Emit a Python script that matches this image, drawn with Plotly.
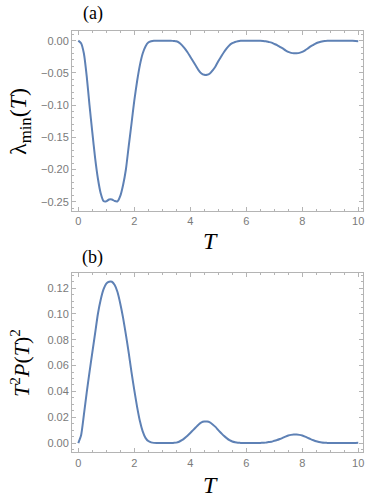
import plotly.graph_objects as go

# T grid (step 0.1 from 0 to 10)
T = [round(i * 0.1, 1) for i in range(101)]

# lambda_min(T)
lam_min = [
    0.0, -0.004, -0.020, -0.055, -0.100, -0.142, -0.182, -0.214, -0.237, -0.249,
    -0.2495, -0.2465, -0.2465, -0.249, -0.2495, -0.241, -0.224, -0.200, -0.164, -0.129,
    -0.093, -0.063, -0.038, -0.020, -0.009, -0.003, -0.001, 0.0, 0.0, 0.0,
    0.0, 0.0, 0.0, 0.0, -0.0005, -0.001, -0.003, -0.007, -0.012, -0.018,
    -0.025, -0.032, -0.039, -0.046, -0.051, -0.053, -0.053, -0.051, -0.046, -0.040,
    -0.032, -0.025, -0.018, -0.012, -0.007, -0.004, -0.002, -0.0008, -0.0002, 0.0,
    0.0, 0.0, 0.0, 0.0, 0.0, -0.0002, -0.0005, -0.001, -0.002, -0.003,
    -0.005, -0.007, -0.0095, -0.012, -0.015, -0.0175, -0.019, -0.0196, -0.0196, -0.019,
    -0.0175, -0.015, -0.012, -0.009, -0.0065, -0.004, -0.0025, -0.0013, -0.0006, -0.0002,
    0.0, 0.0, 0.0, 0.0, 0.0, 0.0, 0.0, -0.0001, -0.0003, -0.0006,
    -0.001,
]

# T^2 P(T)^2
t2p2 = [
    0.0, 0.006, 0.022, 0.039, 0.055, 0.070, 0.085, 0.100, 0.111, 0.119,
    0.1235, 0.125, 0.125, 0.1225, 0.117, 0.108, 0.097, 0.084, 0.070, 0.055,
    0.041, 0.028, 0.017, 0.009, 0.004, 0.0015, 0.0005, 0.0001, 0.0, 0.0,
    0.0, 0.0, 0.0, 0.0, 0.0001, 0.0003, 0.001, 0.0022, 0.0038, 0.0057,
    0.0078, 0.0100, 0.0122, 0.0144, 0.0160, 0.0166, 0.0166, 0.0160, 0.0144, 0.0125,
    0.0100, 0.0078, 0.0056, 0.0038, 0.0022, 0.0012, 0.0006, 0.0002, 0.0001, 0.0,
    0.0, 0.0, 0.0, 0.0, 0.0, 0.0001, 0.0002, 0.0003, 0.0007, 0.001,
    0.0017, 0.0023, 0.0031, 0.004, 0.005, 0.0058, 0.0063, 0.0065, 0.0065, 0.0063,
    0.0058, 0.005, 0.004, 0.003, 0.0021, 0.0013, 0.0008, 0.0004, 0.0002, 0.0001,
    0.0, 0.0, 0.0, 0.0, 0.0, 0.0, 0.0, 0.0, 0.0, 0.0001,
    0.0002,
]

x_ticks = [0, 2, 4, 6, 8, 10]
ya_ticks = [0.0, -0.05, -0.10, -0.15, -0.20, -0.25]
yb_ticks = [0.0, 0.02, 0.04, 0.06, 0.08, 0.10, 0.12]

LINE = "#5E81B5"
FRAME = "#b4b4b4"
TICKFONT = dict(family="Liberation Sans", size=11, color="#7a7a7a")
SERIF = "Liberation Serif"
W, H = 374, 501

fig = go.Figure()
fig.add_trace(go.Scatter(x=T, y=lam_min, mode="lines",
                         line=dict(color=LINE, width=2, shape="spline", smoothing=0.6),
                         xaxis="x", yaxis="y", showlegend=False))
fig.add_trace(go.Scatter(x=T, y=t2p2, mode="lines",
                         line=dict(color=LINE, width=2, shape="spline", smoothing=0.6),
                         xaxis="x2", yaxis="y2", showlegend=False))

def xax(domain, anchor):
    return dict(domain=domain, anchor=anchor, range=[-0.225, 10.17], tickvals=x_ticks,
                ticktext=[str(v) for v in x_ticks], showline=True, mirror="allticks",
                linecolor=FRAME, linewidth=1, ticks="inside", ticklen=4, tickcolor=FRAME,
                showgrid=False, zeroline=False, tickfont=TICKFONT, automargin=False,
                ticklabeloverflow="allow",
                minor=dict(dtick=0.5, tick0=0, ticks="inside", ticklen=2, tickcolor=FRAME, showgrid=False))

def yax(domain, anchor, rng, vals, fmt, mdt):
    return dict(domain=domain, anchor=anchor, range=rng, tickvals=vals,
                ticktext=[(fmt % v).replace("-", "\u2212") if v < 0 else fmt % abs(v) for v in vals],
                showline=True, mirror="allticks",
                linecolor=FRAME, linewidth=1, ticks="inside", ticklen=4, tickcolor=FRAME,
                showgrid=False, zeroline=False, tickfont=TICKFONT, automargin=False,
                ticklabeloverflow="allow",
                minor=dict(dtick=mdt, tick0=0, ticks="inside", ticklen=2, tickcolor=FRAME, showgrid=False))

xd = [72 / W, 363 / W]
fig.update_layout(
    width=W, height=H, margin=dict(l=0, r=0, t=0, b=0, autoexpand=False),
    paper_bgcolor="white", plot_bgcolor="white",
    xaxis=xax(xd, "y"),
    yaxis=yax([1 - 210.7 / H, 1 - 31 / H], "x", [-0.264, 0.015], ya_ticks, "%.2f", 0.01),
    xaxis2=xax(xd, "y2"),
    yaxis2=yax([1 - 452.3 / H, 1 - 272.7 / H], "x2", [-0.0072, 0.132], yb_ticks, "%.2f", 0.005),
)

def ann(text, x, y, size, angle=0):
    fig.add_annotation(text=text, x=x / W, y=1 - y / H, xref="paper", yref="paper",
                       showarrow=False, font=dict(family=SERIF, size=size, color="black"),
                       textangle=angle, xanchor="center", yanchor="middle")

ann("(a)", 92.5, 14, 18)
ann("(b)", 92.5, 257, 18)
ann("<i>T</i>", 210.5, 241, 24)
ann("<i>T</i>", 210.5, 485, 24)
ann("λ<sub>min</sub>(<i>T</i>)", 20, 122, 24, -90)
ann("<i>T</i><sup>2</sup><i>P</i>(<i>T</i>)<sup>2</sup>", 20, 363, 22, -90)

fig.write_html("out.html", config={"displayModeBar": False},
               post_script="document.body.style.margin='0';")
